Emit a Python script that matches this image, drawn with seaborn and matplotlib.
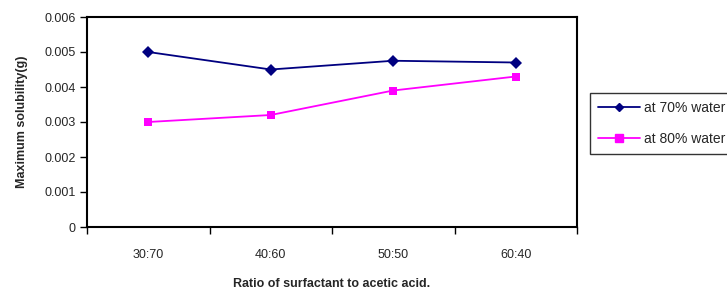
import matplotlib
matplotlib.use("Agg")
import matplotlib.pyplot as plt
import seaborn as sns
import pandas as pd
import numpy as np
from matplotlib.lines import Line2D

categories = ["30:70", "40:60", "50:50", "60:40"]
water70 = [0.0050, 0.0045, 0.00475, 0.0047]
water80 = [0.0030, 0.0032, 0.0039, 0.0043]
series_names = ["at 70% water", "at 80% water"]
yticks = [0, 0.001, 0.002, 0.003, 0.004, 0.005, 0.006]
ytick_labels = ["0", "0.001", "0.002", "0.003", "0.004", "0.005", "0.006"]

sns.set_style("white")
plt.rcParams['font.family'] = ['Liberation Sans', 'DejaVu Sans']

rows = []
for name, vals in zip(series_names, [water70, water80]):
    for i, (c, v) in enumerate(zip(categories, vals)):
        rows.append({"pos": i, "cat": c, "value": v, "series": name})
df = pd.DataFrame(rows)

fig = plt.figure(figsize=(7.27, 2.96), dpi=100)
ax = fig.add_axes([87/727, 1 - 227/296, (577-87)/727, (227-17)/296])

sns.lineplot(data=df, x="pos", y="value", hue="series", style="series",
             palette={"at 70% water": "#000080", "at 80% water": "#FF00FF"},
             markers={"at 70% water": "D", "at 80% water": "s"},
             dashes=False, markersize=6, linewidth=1.3,
             markeredgewidth=0, ax=ax, legend=False)

ax.set_xlim(-0.5, len(categories) - 0.5)
ax.set_ylim(0, 0.006)
ax.set_yticks(yticks)
ax.set_yticklabels(ytick_labels, fontsize=9)
ax.set_xticks(np.arange(len(categories) + 1) - 0.5)
ax.set_xticklabels([])
ax.set_xticks(np.arange(len(categories)), minor=True)
ax.set_xticklabels(categories, minor=True, fontsize=9)
ax.tick_params(axis="x", which="major", direction="out", length=5, width=1, color="black", bottom=True)
ax.tick_params(axis="x", which="minor", length=0, pad=16)
ax.tick_params(axis="y", direction="out", length=5, width=1, color="black", left=True, pad=3)

for s in ax.spines.values():
    s.set_color("black")
    s.set_linewidth(1.5)

ax.set_xlabel("Ratio of surfactant to acetic acid.", fontsize=9, fontweight="bold", labelpad=12)
ax.set_ylabel("Maximum solubility(g)", fontsize=9, fontweight="bold", labelpad=12)
ax.grid(False)

handles = [Line2D([], [], color="#000080", marker="D", markersize=4, linewidth=1.3),
           Line2D([], [], color="#FF00FF", marker="s", markersize=6, linewidth=1.3)]
leg = fig.legend(handles, series_names, loc="upper left",
                 bbox_to_anchor=(590/727, 1 - 93/296), fontsize=10,
                 frameon=True, fancybox=False, edgecolor="black",
                 borderaxespad=0, handlelength=3.0, borderpad=0.6,
                 labelspacing=1.2, handletextpad=0.3)
leg.get_frame().set_linewidth(1.0)

fig.savefig("out.png", dpi=100)
